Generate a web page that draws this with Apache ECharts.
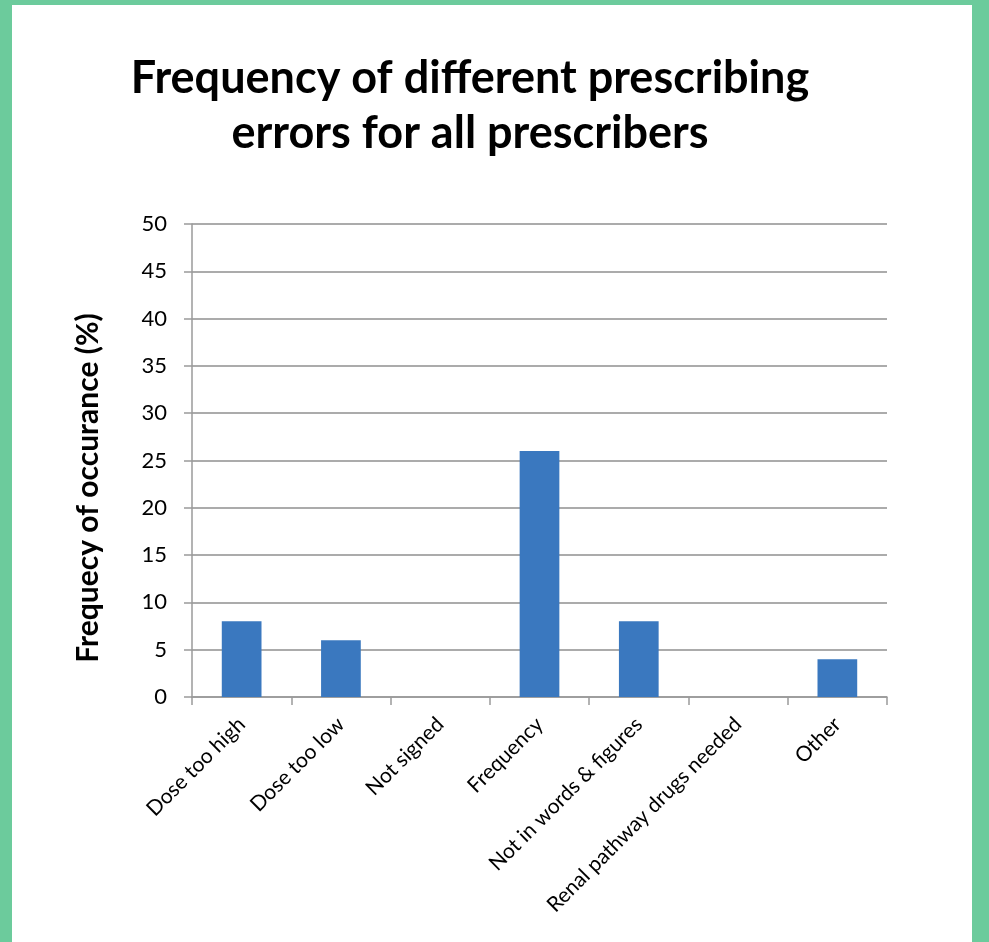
<!DOCTYPE html>
<html><head><meta charset="utf-8">
<script src="https://cdn.jsdelivr.net/npm/echarts@6/dist/echarts.min.js"></script>
<style>
html,body{margin:0;padding:0;background:#6ccb9c;}
#wrap{position:absolute;left:12px;top:5px;width:960px;height:937px;background:#fff;}
#chart{position:absolute;left:0;top:0;width:989px;height:942px;}
</style></head>
<body>
<div id="wrap"></div>
<div id="chart"></div>
<script>
const categories = ["Dose too high","Dose too low","Not signed","Frequency","Not in words & figures","Renal pathway drugs needed","Other"];
const values = [8, 6, 0, 26, 8, 0, 4];
const yTicks = {min: 0, max: 50, interval: 5};
const titleText = "Frequency of different prescribing\nerrors for all prescribers";
const yName = "Frequecy of occurance (%)";

const font = "Lato, 'Open Sans', sans-serif";
const chart = echarts.init(document.getElementById('chart'), null, {renderer:'canvas'});
chart.setOption({
  animation: false,
  backgroundColor: 'transparent',
  title: {
    text: titleText, left: 465, top: 46, textAlign: 'center',
    textStyle: {fontFamily: font, fontWeight: 'bold', fontSize: 45, lineHeight: 55, color: '#000'}
  },
  grid: {left: 192, right: 102, top: 224, bottom: 245},
  graphic: [{
    type: 'text', x: 88, y: 488, rotation: Math.PI/2,
    style: {text: yName, fontFamily: font, fontWeight: 'bold', fontSize: 30, fill: '#000', align: 'center', verticalAlign: 'middle'}
  }],
  xAxis: {
    type: 'category', data: categories,
    axisLine: {lineStyle: {color: '#9a9a9a', width: 1.5}},
    axisTick: {show: true, length: 8, alignWithLabel: false, lineStyle: {color: '#9a9a9a', width: 1.5}},
    axisLabel: {rotate: 45, interval: 0, margin: 24, fontFamily: font, fontSize: 21, color: '#000'}
  },
  yAxis: {
    type: 'value', min: yTicks.min, max: yTicks.max, interval: yTicks.interval,
    axisLine: {show: true, lineStyle: {color: '#9a9a9a', width: 1.5}},
    axisTick: {show: true, length: 8, lineStyle: {color: '#9a9a9a', width: 1.5}},
    axisLabel: {fontFamily: font, fontSize: 22, color: '#000', margin: 25},
    splitLine: {lineStyle: {color: '#8f8f8f', width: 1.5}}
  },
  series: [{
    type: 'bar', data: values, barCategoryGap: '60%',
    itemStyle: {color: '#3a78bf'}
  }]
});
</script>
</body></html>
